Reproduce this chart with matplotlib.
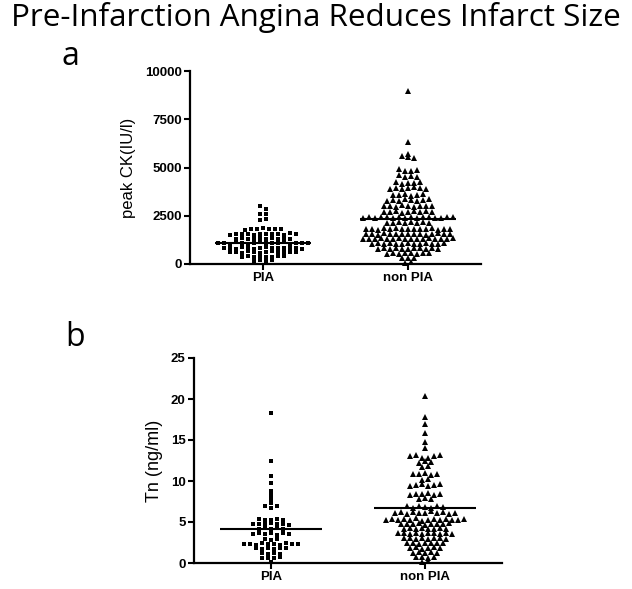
import numpy as np
import matplotlib
matplotlib.use("Agg")
import matplotlib.pyplot as plt

# ---------------- data ----------------
groups = ["PIA", "non PIA"]

ck_pia = [3020, 2850, 2590, 2580, 2280, 2320,
          1780, 1820, 1800, 1850, 1790, 1830, 1810,
          1520, 1560, 1540, 1580, 1500, 1550, 1570, 1530, 1560, 1510, 1590, 1540,
          1300, 1340, 1320, 1280, 1350, 1310, 1330, 1290, 1360, 1320,
          1080, 1110, 1060, 1120, 1090, 1050, 1100, 1130, 1070, 1100, 1090, 1120, 1060, 1110, 1080, 1100,
          820, 850, 800, 860, 830, 790, 840, 870, 810, 830, 850, 820, 840, 800,
          610, 640, 590, 650, 620, 580, 630, 660, 600, 620, 640, 610,
          370, 400, 350, 410, 380, 340, 390, 420,
          160, 190, 140, 200]

ck_nonpia = [8960, 6300, 5710, 5580, 5520, 5490,
             4900, 4800, 4830, 4870,
             4600, 4520, 4560, 4500,
             4250, 4150, 4200, 4180, 4230,
             3900, 3960, 3880, 3940, 4000, 3920, 3870,
             3600, 3550, 3620, 3520, 3580, 3650,
             3280, 3330, 3250, 3350, 3300, 3270, 3320, 3360,
             2980, 3020, 2950, 3050, 3000, 2970, 3030, 2990, 3010,
             2720, 2680, 2750, 2650, 2700, 2730, 2690, 2760, 2710,
             2400, 2420, 2390, 2430, 2410, 2380, 2440, 2400, 2420, 2390, 2410, 2430, 2400, 2380, 2420, 2410,
             2150, 2120, 2180, 2140, 2170, 2130, 2160, 2110,
             1790, 1820, 1780, 1840, 1800, 1850, 1810, 1830, 1790, 1820, 1800, 1840, 1780, 1810, 1830,
             1540, 1570, 1520, 1590, 1550, 1530, 1580, 1560, 1540, 1570, 1520, 1550, 1590, 1530, 1560,
             1290, 1320, 1270, 1340, 1300, 1280, 1330, 1310, 1290, 1320, 1270, 1340, 1300, 1310, 1280, 1330,
             1040, 1070, 1020, 1090, 1050, 1030, 1080, 1060, 1040, 1070, 1020, 1050, 1080,
             790, 820, 770, 840, 800, 780, 830, 810, 790, 820, 800,
             540, 570, 520, 590, 550, 530, 580, 560,
             290, 320, 300,
             60, 100]

tn_pia = [18.3, 12.4, 10.6, 9.7, 8.8, 8.25, 7.8, 7.3, 6.9, 6.75, 6.95,
          5.4, 5.2, 5.3, 5.35, 5.25,
          4.8, 4.7, 4.75, 4.85, 4.7, 4.8, 4.65,
          4.2, 4.25, 4.15, 4.3, 4.2,
          3.5, 3.6, 3.55, 3.65, 3.45, 3.6, 3.5,
          2.9, 2.85, 2.95,
          2.3, 2.35, 2.25, 2.4, 2.3, 2.35, 2.2, 2.4, 2.3, 2.35,
          1.8, 1.75, 1.85, 1.7, 1.8, 1.85,
          1.2, 1.15, 1.25, 1.1,
          0.6, 0.65, 0.55, 0.7,
          0.08]

tn_nonpia = [20.4, 17.85, 16.9, 15.9, 14.8, 14.07,
             13.0, 13.15, 12.85, 12.8, 13.1, 13.18,
             12.25, 12.4, 12.35,
             11.75, 11.85,
             10.9, 10.8, 10.95, 10.7, 10.85,
             10.1, 10.2,
             9.4, 9.5, 9.6, 9.45, 9.55, 9.6,
             8.3, 8.45, 8.4, 8.5, 8.35, 8.45,
             7.8, 7.9, 7.75,
             6.9, 6.7, 6.95, 6.8, 6.75, 6.9, 6.85,
             6.1, 6.2, 6.0, 6.25, 6.15, 6.05, 6.3, 6.1, 6.2, 6.0, 6.15,
             5.3, 5.4, 5.2, 5.35, 5.25, 5.45, 5.15, 5.3, 5.4, 5.2, 5.35, 5.25, 5.3, 5.4,
             4.75, 4.8, 4.7, 4.85, 4.65, 4.75, 4.8, 4.7, 4.85,
             4.2, 4.25, 4.1, 4.3, 4.15, 4.2, 4.25, 4.1,
             3.6, 3.65, 3.5, 3.7, 3.55, 3.6, 3.65, 3.5, 3.7, 3.55,
             3.0, 3.05, 2.9, 3.1, 2.95, 3.0, 3.05, 2.95,
             2.45, 2.5, 2.35, 2.4, 2.5, 2.45, 2.4,
             1.85, 1.9, 1.75, 1.8, 1.9, 1.85,
             1.25, 1.3, 1.2, 1.3, 1.25,
             0.7, 0.75, 0.65, 0.7,
             0.1, 0.2]

ck_mean_lines = [1100, 2330]
tn_mean_lines = [4.15, 6.75]

ck_ticks = [0, 2500, 5000, 7500, 10000]
tn_ticks = [0, 5, 10, 15, 20, 25]

title = "Pre-Infarction Angina Reduces Infarct Size"

# ---------------- layout helpers ----------------
W, H = 632, 589
fig = plt.figure(figsize=(W / 100, H / 100), dpi=100)


def rect(l, r, t, b):
    return [l / W, 1 - b / H, (r - l) / W, (b - t) / H]


def swarm_offsets(values, row_h, dx):
    v = np.asarray(values, float)
    order = np.argsort(v, kind="stable")
    offs = np.zeros(len(v))
    i = 0
    while i < len(order):
        start = v[order[i]]
        j = i
        while j < len(order) and v[order[j]] - start <= row_h + 1e-9:
            j += 1
        idx = np.sort(order[i:j])
        n = len(idx)
        offs[idx] = (np.arange(n) - (n - 1) / 2) * dx
        i = j
    return offs


TICKFONT = "Liberation Sans"


def style_axes(ax, yticks, ylabel, ylabel_size):
    ax.set_xlim(-0.5, 1.5)
    ax.set_ylim(yticks[0], yticks[-1])
    for s in ["top", "right"]:
        ax.spines[s].set_visible(False)
    for s in ["left", "bottom"]:
        ax.spines[s].set_linewidth(1.6)
    ax.set_xticks(range(len(groups)))
    ax.set_xticklabels(groups)
    ax.set_yticks(yticks)
    ax.set_yticklabels([str(t) for t in yticks])
    ax.tick_params(direction="out", length=4.5, width=1.5, pad=1.5)
    for lbl in ax.get_xticklabels() + ax.get_yticklabels():
        lbl.set_fontfamily(TICKFONT)
        lbl.set_fontweight("bold")
        lbl.set_fontsize(9.5)
    ax.set_ylabel(ylabel, fontfamily=TICKFONT, fontsize=ylabel_size, labelpad=6)


def draw_panel(ax, series, markers, msizes, row_h, means, ax_w_px):
    dx = 6.0 / ax_w_px * 2.0
    for i, (vals, mk, ms) in enumerate(zip(series, markers, msizes)):
        offs = swarm_offsets(vals, row_h, dx)
        ax.plot(i + offs, vals, linestyle="none", marker=mk, markersize=ms,
                color="black", markeredgewidth=0, clip_on=False, zorder=3)
        ax.plot([i - 0.33, i + 0.33], [means[i], means[i]], color="black",
                lw=1.5, zorder=4, solid_capstyle="butt")


# panel a
ax1 = fig.add_axes(rect(190, 481, 71, 264))
style_axes(ax1, ck_ticks, "peak CK(IU/l)", 12)
draw_panel(ax1, [ck_pia, ck_nonpia], ["s", "^"], [3.5, 4.4], 180, ck_mean_lines, 291)

# panel b
ax2 = fig.add_axes(rect(194, 502, 358, 563))
style_axes(ax2, tn_ticks, "Tn (ng/ml)", 13)
draw_panel(ax2, [tn_pia, tn_nonpia], ["s", "^"], [3.5, 4.4], 0.4, tn_mean_lines, 308)

# title and panel letters
TFONT = "Open Sans"
r = fig.canvas.get_renderer()
t = fig.text(0.5, 1 - 26 / H, title, ha="center", va="baseline",
             fontfamily=TFONT, fontsize=20)
t.set_fontsize(20 * 608 / t.get_window_extent(r).width)

fig.text(70 / W, 1 - 65 / H, "a", ha="center", va="baseline", fontfamily=TFONT, fontsize=23)
fig.text(75 / W, 1 - 346 / H, "b", ha="center", va="baseline", fontfamily=TFONT, fontsize=23)

fig.savefig("out.png", dpi=100)
